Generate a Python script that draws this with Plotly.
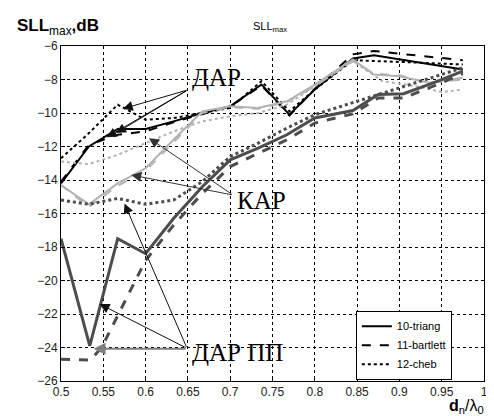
import plotly.graph_objects as go

# ---------------- data ----------------
# ДАР (black)
dar_sol_x = [0.5, 0.533, 0.567, 0.6, 0.633, 0.667, 0.7, 0.737, 0.77, 0.8, 0.845, 0.87, 0.975]
dar_sol_y = [-14.2, -12.0, -10.95, -10.95, -10.5, -10.0, -9.6, -8.3, -10.1, -8.6, -6.75, -6.55, -7.4]
dar_das_x = [0.5, 0.533, 0.567, 0.6, 0.633, 0.667, 0.7, 0.737, 0.77, 0.8, 0.845, 0.87, 0.975]
dar_das_y = [-14.1, -11.9, -11.3, -11.1, -10.55, -10.05, -9.6, -8.35, -10.15, -8.55, -6.5, -6.3, -6.85]
dar_dot_x = [0.5, 0.533, 0.567, 0.6, 0.633, 0.667, 0.7, 0.737, 0.77, 0.8, 0.845, 0.9, 0.975]
dar_dot_y = [-12.7, -11.2, -9.5, -10.4, -10.3, -10.0, -9.7, -8.1, -9.9, -8.6, -6.85, -6.95, -7.1]

# КАР (light gray)
kar_sol_x = [0.5, 0.533, 0.567, 0.6, 0.633, 0.667, 0.7, 0.733, 0.767, 0.8, 0.845, 0.87, 0.9, 0.935, 0.975]
kar_sol_y = [-14.3, -15.45, -14.2, -13.3, -11.6, -9.9, -9.6, -9.7, -9.3, -8.3, -6.8, -7.7, -7.8, -8.2, -7.9]
kar_das_x = [0.5, 0.533, 0.567, 0.6, 0.633, 0.667, 0.7, 0.733, 0.767, 0.8, 0.845, 0.87, 0.9, 0.935, 0.975]
kar_das_y = [-14.3, -15.6, -14.35, -13.45, -11.75, -10.0, -9.65, -9.75, -9.35, -8.4, -6.9, -7.65, -7.75, -8.2, -8.0]
kar_dot_x = [0.5, 0.533, 0.567, 0.6, 0.633, 0.667, 0.7, 0.733, 0.767, 0.8, 0.845, 0.88, 0.92, 0.95, 0.975]
kar_dot_y = [-12.9, -13.05, -12.5, -11.8, -11.1, -10.5, -10.2, -10.0, -9.5, -8.4, -6.9, -8.1, -8.4, -8.75, -8.6]

# ДАР ПП (dark gray, thick)
pp_sol_x = [0.5, 0.534, 0.567, 0.6, 0.633, 0.667, 0.7, 0.733, 0.767, 0.8, 0.845, 0.875, 0.905, 0.94, 0.975]
pp_sol_y = [-17.5, -23.9, -17.5, -18.4, -16.3, -14.4, -12.8, -12.1, -11.3, -10.3, -9.85, -8.9, -8.85, -8.2, -7.5]
pp_das_x = [0.5, 0.535, 0.548, 0.6, 0.633, 0.667, 0.7, 0.733, 0.767, 0.8, 0.845, 0.875, 0.905, 0.94, 0.975]
pp_das_y = [-24.7, -24.75, -24.0, -18.8, -16.7, -14.8, -13.2, -12.4, -11.6, -10.6, -10.05, -9.1, -9.1, -8.4, -7.65]
pp_dot_x = [0.5, 0.533, 0.567, 0.6, 0.633, 0.667, 0.7, 0.733, 0.767, 0.8, 0.85, 0.9, 0.94, 0.975]
pp_dot_y = [-15.2, -15.45, -15.1, -15.45, -15.2, -14.1, -12.6, -11.8, -10.9, -10.1, -9.3, -8.5, -7.9, -7.3]

legend_names = ["10-triang", "11-bartlett", "12-cheb"]

x_ticks = [0.5, 0.55, 0.6, 0.65, 0.7, 0.75, 0.8, 0.85, 0.9, 0.95, 1.0]
x_tick_text = ["0.5", "0.55", "0.6", "0.65", "0.7", "0.75", "0.8", "0.85", "0.9", "0.95", "1"]
y_ticks = [-26, -24, -22, -20, -18, -16, -14, -12, -10, -8, -6]

# labels: (text, x, y)
label_dar = ("ДАР", 0.6524, -7.9)
label_kar = ("КАР", 0.7054, -15.2)
label_pp = ("ДАР ПП", 0.6524, -24.3)

# arrows: (tip_x, tip_y, tail_x, tail_y)
arrows_dar = [(0.573, -9.75, 0.65, -8.62), (0.565, -11.2, 0.65, -8.62), (0.554, -11.45, 0.65, -8.62)]
arrows_kar = [(0.604, -11.5, 0.7035, -14.9), (0.583, -13.7, 0.7035, -14.9)]
arrows_pp = [(0.575, -15.4, 0.649, -24.05), (0.5455, -21.4, 0.649, -24.05)]
arrow_pp_h = (0.5385, -24.07, 0.649, -24.07)

# ---------------- figure ----------------
BLACK = "#000000"
LIGHT = "#b3b3b3"
DARK = "#4d4d4d"

fig = go.Figure()

def add(xs, ys, color, width, dash, name=None, show=False):
    fig.add_trace(go.Scatter(x=xs, y=ys, mode="lines", name=name, showlegend=show,
                             line=dict(color=color, width=width, dash=dash)))

add(dar_sol_x, dar_sol_y, BLACK, 2, "solid", legend_names[0], True)
add(dar_das_x, dar_das_y, BLACK, 2, "dash", legend_names[1], True)
add(dar_dot_x, dar_dot_y, BLACK, 2, "dot", legend_names[2], True)

add(kar_sol_x, kar_sol_y, LIGHT, 2, "solid")
add(kar_das_x, kar_das_y, LIGHT, 2, "dash")
add(kar_dot_x, kar_dot_y, LIGHT, 2, "dot")

add(pp_sol_x, pp_sol_y, DARK, 3, "solid")
add(pp_das_x, pp_das_y, DARK, 3, "dash")
add(pp_dot_x, pp_dot_y, DARK, 3, "dot")

serif = "Liberation Serif, Times New Roman, serif"
sans = "Liberation Sans, Arial, sans-serif"

annotations = []
for (t, lx, ly) in (label_dar, label_kar, label_pp):
    annotations.append(dict(text=t, x=lx, y=ly, xref="x", yref="y", showarrow=False,
                            xanchor="left", yanchor="middle",
                            font=dict(family=serif, size=25, color="black")))

def arrow(tx, ty, sx, sy, color="#111111", width=1, size=2.0):
    return dict(text="", x=tx, y=ty, ax=sx, ay=sy, xref="x", yref="y", axref="x", ayref="y",
                showarrow=True, arrowhead=2, arrowsize=size, arrowwidth=width,
                arrowcolor=color, standoff=0, startstandoff=0)

for a in arrows_dar:
    annotations.append(arrow(*a))
for a in arrows_kar:
    annotations.append(arrow(*a, color="#333333"))
for a in arrows_pp:
    annotations.append(arrow(*a))
annotations.append(arrow(*arrow_pp_h, color="#808080", width=2, size=1.2))

annotations.append(dict(text="SLL<sub>max</sub>", x=0.494, y=1.057, xref="paper", yref="paper",
                        showarrow=False, xanchor="center", yanchor="middle",
                        font=dict(family=sans, size=11, color="black")))
annotations.append(dict(text="<b>SLL</b><sub>max</sub><b>,dB</b>", x=-0.1087, y=1.058, xref="paper", yref="paper",
                        showarrow=False, xanchor="left", yanchor="middle",
                        font=dict(family=sans, size=17, color="black")))
annotations.append(dict(text="<b>d</b><sub>n</sub>/λ<sub>0</sub>", x=1.004, y=-0.111, xref="paper", yref="paper",
                        showarrow=False, xanchor="right", yanchor="bottom",
                        font=dict(family=sans, size=16, color="black")))

fig.update_layout(
    width=494, height=416,
    margin=dict(l=53, r=18, t=38, b=43),
    paper_bgcolor="white", plot_bgcolor="white",
    showlegend=True,
    legend=dict(x=0.697, y=0.21, xanchor="left", yanchor="top",
                bgcolor="white", bordercolor="black", borderwidth=1,
                font=dict(family=sans, size=11, color="black"),
                tracegroupgap=0),
    annotations=annotations,
    font=dict(family=sans, size=12, color="#222222"),
)
fig.update_xaxes(range=[0.5, 1.0], tickvals=x_ticks, ticktext=x_tick_text,
                 showgrid=True, gridcolor="black", griddash="3px,3px", gridwidth=1,
                 zeroline=False, showline=True, linecolor="black", linewidth=1, mirror=True,
                 ticks="inside", ticklen=4, tickcolor="black",
                 tickfont=dict(family=sans, size=12, color="#222222"))
fig.update_yaxes(range=[-26, -6], tickvals=y_ticks,
                 showgrid=True, gridcolor="black", griddash="3px,3px", gridwidth=1,
                 zeroline=False, showline=True, linecolor="black", linewidth=1, mirror=True,
                 ticks="inside", ticklen=4, tickcolor="black",
                 tickfont=dict(family=sans, size=12, color="#222222"))

fig.write_html("out.html")
